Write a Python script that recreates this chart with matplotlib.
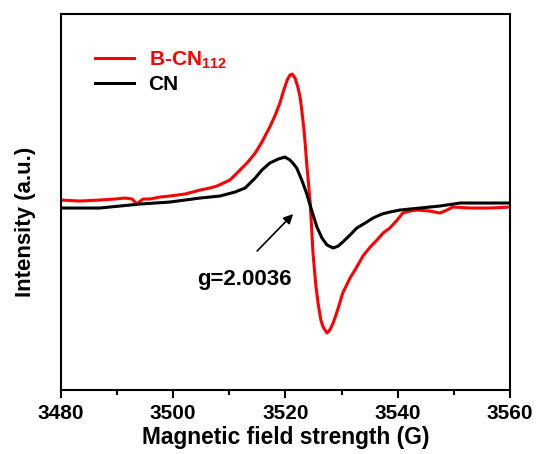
import numpy as np
import matplotlib
matplotlib.use("Agg")
import matplotlib.pyplot as plt

plt.rcParams['font.family'] = ['Liberation Sans', 'DejaVu Sans']
plt.rcParams['font.weight'] = 'bold'
plt.rcParams['mathtext.fontset'] = 'custom'
plt.rcParams['mathtext.rm'] = 'Liberation Sans:bold'
plt.rcParams['mathtext.bf'] = 'Liberation Sans:bold'

# B-CN112 spectrum (field in G, intensity a.u.)
bcn_field = [3480.0, 3483.4, 3486.9, 3489.6, 3491.4, 3492.7, 3493.5, 3494.6, 3495.9, 3497.6,
             3499.4, 3502.1, 3504.8, 3506.5, 3507.8, 3510.1, 3511.9, 3513.3, 3514.6, 3515.8,
             3517.2, 3518.1, 3519.0, 3519.7, 3520.3, 3520.8, 3521.2, 3521.7, 3522.2, 3522.6,
             3522.9, 3523.3, 3523.5, 3523.8, 3524.0, 3524.4, 3524.9, 3525.4, 3525.8, 3526.3,
             3526.7, 3527.4, 3527.9, 3528.5, 3529.4, 3530.2, 3531.5, 3532.7, 3533.8, 3535.1,
             3536.3, 3537.4, 3538.6, 3539.9, 3540.9, 3542.2, 3543.4, 3545.7, 3547.5, 3548.8,
             3549.8, 3552.9, 3556.4, 3560.0]
bcn_int = [190, 189, 190, 191, 192, 191, 186, 191, 191, 193,
           194, 196, 200, 202, 204, 210, 220, 228, 237, 248,
           263, 274, 287, 300, 310, 315, 316, 312, 303, 293,
           280, 260, 247, 225, 213, 187, 137, 105, 87, 70,
           63, 57, 60, 67, 82, 97, 112, 123, 134, 143,
           150, 157, 162, 170, 177, 179, 180, 179, 177, 180,
           183, 182, 182, 183]

# CN spectrum
cn_field = [3480.0, 3483.4, 3486.9, 3490.5, 3494.1, 3499.4, 3504.8, 3508.3, 3511.0, 3512.8,
            3514.6, 3515.8, 3517.2, 3518.7, 3519.9, 3520.8, 3521.3, 3522.0, 3522.9, 3523.8,
            3524.7, 3525.6, 3526.5, 3527.4, 3528.5, 3529.4, 3530.2, 3531.5, 3532.7, 3534.2,
            3535.6, 3537.2, 3538.6, 3540.4, 3544.0, 3547.5, 3551.1, 3554.7, 3560.0]
cn_int = [182, 182, 182, 184, 186, 188, 192, 194, 198, 202,
          212, 220, 227, 231, 233, 230, 227, 222, 210, 196,
          179, 163, 152, 145, 142, 144, 148, 155, 162, 167,
          172, 176, 178, 180, 182, 184, 187, 187, 187]

fig = plt.figure(figsize=(5.37, 4.54), dpi=100)
ax = fig.add_axes([0.1136, 0.141, 0.8361, 0.828])

ax.plot(bcn_field, bcn_int, color='#ff0000', lw=2.2, label='B-CN$_{112}$',
        solid_joinstyle='round')
ax.plot(cn_field, cn_int, color='black', lw=2.2, label='CN', solid_joinstyle='round')

ax.set_xlim(3480, 3560)
ax.set_ylim(0, 376)
ax.set_xticks([3480, 3500, 3520, 3540, 3560])
ax.set_xticks([3490, 3510, 3530, 3550], minor=True)
ax.set_yticks([])
ax.tick_params(axis='x', which='major', direction='out', length=6, width=1.5,
               labelsize=15, pad=4)
ax.tick_params(axis='x', which='minor', direction='out', length=3.5, width=1.5)
for s in ax.spines.values():
    s.set_linewidth(1.5)

ax.set_xlabel('Magnetic field strength (G)', fontsize=16.4, fontweight='bold', labelpad=2)
ax.set_ylabel('Intensity (a.u.)', fontsize=16, fontweight='bold')
ax.yaxis.set_label_coords(-0.056, 0.447)

ax.annotate('', xy=(3521.7, 178), xytext=(3514.6, 137),
            arrowprops=dict(arrowstyle='-|>', color='black', lw=1.2, mutation_scale=14))
ax.text(3512.6, 105, 'g=2.0036', fontsize=16, fontweight='bold', ha='center', va='baseline')

leg = ax.legend(loc='upper left', bbox_to_anchor=(0.058, 0.929), frameon=False, fontsize=15,
                handlelength=1.85, handletextpad=0.7, labelspacing=0.2, borderaxespad=0)
for txt, c in zip(leg.get_texts(), ['#ff0000', 'black']):
    txt.set_color(c)
    txt.set_fontweight('bold')

fig.savefig('out.png', dpi=100)
